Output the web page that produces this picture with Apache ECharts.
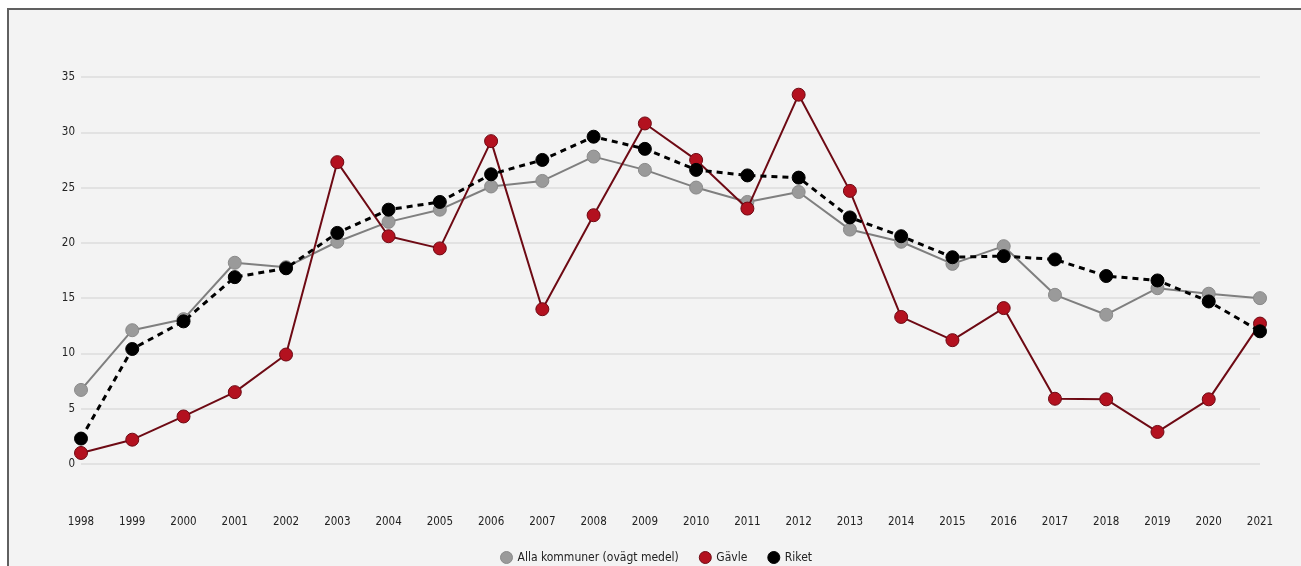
<!DOCTYPE html>
<html>
<head>
<meta charset="utf-8">
<script src="https://cdn.jsdelivr.net/npm/echarts@6/dist/echarts.min.js"></script>
<style>
  html, body { margin: 0; padding: 0; background: #ffffff; width: 1301px; height: 566px; overflow: hidden; }
  #frame { position: absolute; left: 7px; top: 8px; width: 1294px; height: 558px;
           border-left: 2px solid #606060; border-top: 2px solid #606060; background: #f3f3f3; }
  #chart { position: absolute; left: 0; top: 0; width: 1294px; height: 558px; }
</style>
</head>
<body>
<div id="frame"><div id="chart"></div></div>
<script>
const years = ['1998','1999','2000','2001','2002','2003','2004','2005','2006','2007','2008','2009','2010','2011','2012','2013','2014','2015','2016','2017','2018','2019','2020','2021'];
const allaKommuner = [6.7, 12.1, 13.1, 18.2, 17.8, 20.1, 21.9, 23.0, 25.1, 25.6, 27.8, 26.6, 25.0, 23.7, 24.6, 21.2, 20.1, 18.1, 19.7, 15.3, 13.5, 15.9, 15.4, 15.0];
const gavle = [1.0, 2.2, 4.3, 6.5, 9.9, 27.3, 20.6, 19.5, 29.2, 14.0, 22.5, 30.8, 27.5, 23.1, 33.4, 24.7, 13.3, 11.2, 14.1, 5.9, 5.85, 2.9, 5.85, 12.7];
const riket = [2.3, 10.4, 12.9, 16.9, 17.7, 20.9, 23.0, 23.7, 26.2, 27.5, 29.6, 28.5, 26.6, 26.1, 25.9, 22.3, 20.6, 18.7, 18.8, 18.5, 17.0, 16.6, 14.7, 12.0];
const yTicks = { min: 0, max: 35, interval: 5 };
const seriesNames = ['Alla kommuner (ovägt medel)', 'Gävle', 'Riket'];

const font = "'Liberation Sans Narrow', 'DejaVu Sans Condensed', 'Roboto', sans-serif";
const chart = echarts.init(document.getElementById('chart'), null, { renderer: 'canvas' });
chart.setOption({
  animation: false,
  backgroundColor: '#f3f3f3',
  textStyle: { fontFamily: font },
  grid: { left: 72, right: 43, top: 67, bottom: 104 },
  legend: {
    bottom: -1,
    left: 'center',
    icon: 'circle',
    itemWidth: 12,
    itemHeight: 12,
    itemGap: 20,
    itemStyle: { borderWidth: 1 },
    textStyle: { fontFamily: font, fontSize: 12, color: '#222' },
    data: seriesNames
  },
  xAxis: {
    type: 'category',
    data: years,
    boundaryGap: false,
    axisLine: { show: false },
    axisTick: { show: false },
    axisLabel: { margin: 52, fontSize: 11.5, color: '#222', fontFamily: font }
  },
  yAxis: {
    type: 'value',
    min: yTicks.min, max: yTicks.max, interval: yTicks.interval,
    axisLine: { show: false },
    axisTick: { show: false },
    axisLabel: { margin: 6, fontSize: 11.5, color: '#222', fontFamily: font },
    splitLine: { lineStyle: { color: '#e2e2e2', width: 2 } }
  },
  series: [
    {
      name: seriesNames[0], type: 'line', data: allaKommuner,
      symbol: 'circle', symbolSize: 13,
      lineStyle: { color: '#7f7f7f', width: 2 },
      itemStyle: { color: '#9a9a9a', borderColor: '#8a8a8a', borderWidth: 1 },
      z: 2
    },
    {
      name: seriesNames[1], type: 'line', data: gavle,
      symbol: 'circle', symbolSize: 13,
      lineStyle: { color: '#6e0a14', width: 2 },
      itemStyle: { color: '#b3111f', borderColor: '#6e0a14', borderWidth: 1 },
      z: 3
    },
    {
      name: seriesNames[2], type: 'line', data: riket,
      symbol: 'circle', symbolSize: 13,
      lineStyle: { color: '#000000', width: 3, type: [6, 5] },
      itemStyle: { color: '#000000', borderColor: '#000000', borderWidth: 1 },
      z: 4
    }
  ]
});
</script>
</body>
</html>
